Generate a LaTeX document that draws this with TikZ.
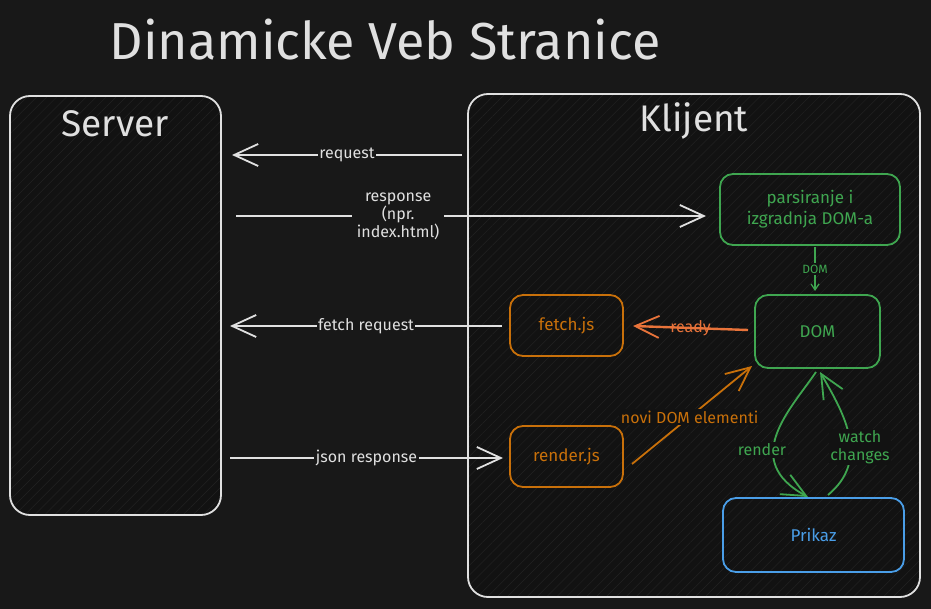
\documentclass[tikz,border=0pt]{standalone}
\usepackage{fontspec}
\setmainfont{Fira Sans}
\usetikzlibrary{arrows.meta,patterns.meta}
\definecolor{bg}{HTML}{181818}
\definecolor{boxbg}{HTML}{121212}
\definecolor{hatchc}{HTML}{222222}
\definecolor{light}{HTML}{E0E0E0}
\definecolor{grn}{HTML}{3FA650}
\definecolor{org}{HTML}{C8700A}
\definecolor{red}{HTML}{E8733A}
\definecolor{blu}{HTML}{4A9EE8}
\tikzset{
  box/.style={rectangle, line width=1.8pt, preaction={fill=boxbg},
    pattern={Lines[angle=45,distance=7pt,line width=0.5pt]}, pattern color=hatchc},
  big/.style={box, rounded corners=20pt, draw=light},
  small/.style={box, rounded corners=13pt, align=center, font=\fontsize{17}{21}\selectfont},
  conn/.style={line width=1.8pt, -{Straight Barb[length=24pt,width=22pt,line width=1.8pt]}},
  lbl/.style={font=\fontsize{16}{18}\selectfont, inner sep=1.5pt, align=center},
}
\begin{document}
\begin{tikzpicture}[x=1pt,y=-1pt]
\fill[bg] (0,0) rectangle (931,609);
\useasboundingbox (0,0) rectangle (931,609);

\node[text=light, font=\fontsize{52}{56}\selectfont] (title) at (385,40) {Dinamicke Veb Stranice};

\node[big, minimum width=211pt, minimum height=419pt] (server) at (115.5,305.5) {};
\node[text=light, font=\fontsize{37}{40}\selectfont] (servert) at (115,124) {Server};
\node[big, minimum width=452pt, minimum height=503pt] (client) at (694,345.5) {};
\node[text=light, font=\fontsize{37}{40}\selectfont] (clientt) at (694,121) {Klijent};

\node[small, draw=grn, text=grn, minimum width=180pt, minimum height=71pt] (parse) at (810,209.5) {parsiranje i\\izgradnja DOM-a};
\node[small, draw=grn, text=grn, minimum width=125pt, minimum height=73pt] (dom) at (817.5,331.5) {DOM};
\node[small, draw=org, text=org, minimum width=113pt, minimum height=61pt] (fetch) at (566.5,325.5) {fetch.js};
\node[small, draw=org, text=org, minimum width=113pt, minimum height=61pt] (render) at (566.5,456.5) {render.js};
\node[small, draw=blu, text=blu, minimum width=181pt, minimum height=74pt] (prikaz) at (813.5,535) {Prikaz};

% coordinates
\coordinate (reqA) at (462,155);
\coordinate (reqB) at (232,155);
\coordinate (resA) at (236,216);
\coordinate (resB) at (706,216);
\coordinate (fetA) at (502,326);
\coordinate (fetB) at (230,326);
\coordinate (jsA) at (230,458);
\coordinate (jsB) at (503,458);
\coordinate (rdyA) at (748,330);
\coordinate (rdyB) at (633,326);
\coordinate (novA) at (632,464);
\coordinate (novB) at (752,366);
\coordinate (domA) at (815,247);
\coordinate (domB) at (815,291);
\coordinate (renA) at (816,372);
\coordinate (renB) at (808,497);
\coordinate (watA) at (828,495);
\coordinate (watB) at (820,372);

\draw[conn, light] (reqA) -- node[lbl, fill=bg, text=light, pos=0.5] (reql) {request} (reqB);
\draw[conn, light] (resA) -- node[lbl, fill=bg, text=light, inner xsep=5pt, pos=0.345] (resl) {response\\(npr.\\index.html)} (resB);
\draw[conn, light] (fetA) -- node[lbl, fill=bg, text=light] (fetl) {fetch request} (fetB);
\draw[conn, light] (jsA) -- node[lbl, fill=bg, text=light] (jsl) {json response} (jsB);

\draw[conn, grn, -{Straight Barb[length=6pt,width=8pt,line width=1.2pt]}, line width=1.2pt] (domA) -- node[lbl, fill=boxbg, text=grn, font=\fontsize{12}{14}\selectfont] (doml) {DOM} (domB);
\draw[conn, red, line width=2.4pt] (rdyA) -- node[lbl, text=red] (rdyl) {ready} (rdyB);
\draw[conn, org] (novA) -- node[lbl, fill=boxbg, text=org, pos=0.48] (novl) {novi DOM elementi} (novB);

\draw[conn, grn] (renA) .. controls (790,410) and (740,460) .. (renB);
\node[lbl, fill=boxbg, text=grn] (renl) at (762,450) {render};
\draw[conn, grn] (watA) .. controls (870,460) and (845,415) .. (watB);
\node[lbl, fill=boxbg, text=grn] (watl) at (860,447) {watch\\changes};
\end{tikzpicture}
\end{document}
